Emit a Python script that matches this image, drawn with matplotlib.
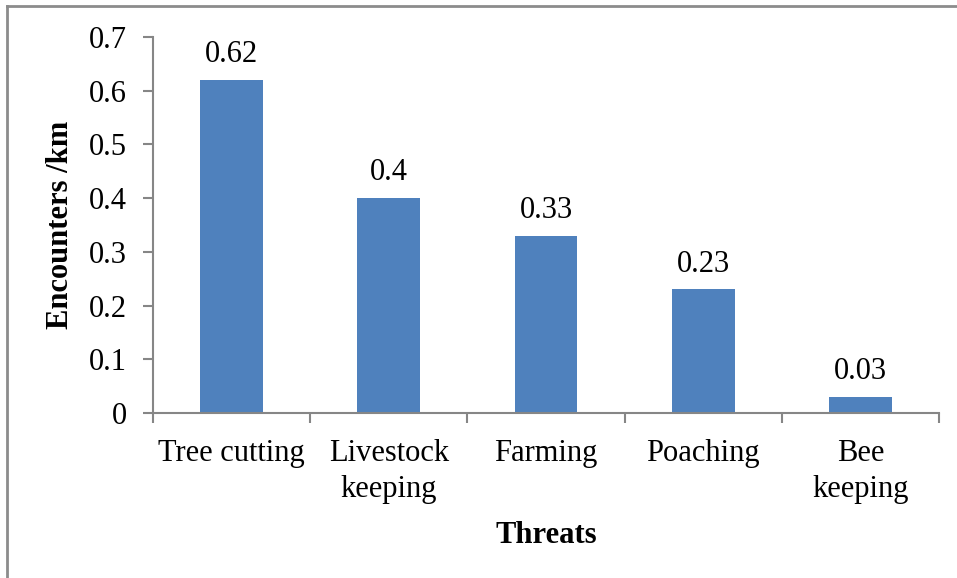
import numpy as np
import matplotlib.pyplot as plt
from matplotlib.lines import Line2D

threats = ['Tree cutting', 'Livestock\nkeeping', 'Farming', 'Poaching', 'Bee\nkeeping']
encounters = [0.62, 0.4, 0.33, 0.23, 0.03]
value_labels = ['0.62', '0.4', '0.33', '0.23', '0.03']
y_ticks = [0, 0.1, 0.2, 0.3, 0.4, 0.5, 0.6, 0.7]
y_tick_labels = ['0', '0.1', '0.2', '0.3', '0.4', '0.5', '0.6', '0.7']

plt.rcParams['font.family'] = ['Liberation Serif', 'DejaVu Serif']
grey = '#868686'
fs = 22

fig = plt.figure(figsize=(9.57, 5.78), dpi=100)
ax = fig.add_axes([0.1599, 0.2855, 0.8213, 0.6505])

# frame lines on the top and left edges
fig.add_artist(Line2D([0.007, 1.0], [0.9895, 0.9895], transform=fig.transFigure,
                      color='#8c8c8c', linewidth=2))
fig.add_artist(Line2D([0.0073, 0.0073], [0.0, 0.9895], transform=fig.transFigure,
                      color='#8c8c8c', linewidth=2))

x = np.arange(len(threats))
ax.bar(x, encounters, width=0.4, color='#4f81bd')

for xi, v, lab in zip(x, encounters, value_labels):
    ax.text(xi, v + 0.02, lab, ha='center', va='bottom', fontsize=fs)

ax.set_xlim(-0.5, len(threats) - 0.5)
ax.set_ylim(0, 0.7)
ax.set_yticks(y_ticks)
ax.set_yticklabels(y_tick_labels, fontsize=fs)
ax.set_xticks(x)
ax.set_xticklabels(threats, fontsize=fs, linespacing=1.3)
ax.set_xticks(np.arange(len(threats) + 1) - 0.5, minor=True)
ax.tick_params(axis='x', which='major', length=0, pad=19)
ax.tick_params(axis='x', which='minor', length=7, width=1.5, color=grey)
ax.tick_params(axis='y', length=7, width=1.5, color=grey, pad=12)

for side in ['top', 'right']:
    ax.spines[side].set_visible(False)
for side in ['left', 'bottom']:
    ax.spines[side].set_color(grey)
    ax.spines[side].set_linewidth(1.5)

ax.set_ylabel('Encounters /km', fontsize=fs, fontweight='bold', labelpad=10)
ax.set_xlabel('Threats', fontsize=fs, fontweight='bold', labelpad=12)

fig.savefig('out.png', dpi=100)
